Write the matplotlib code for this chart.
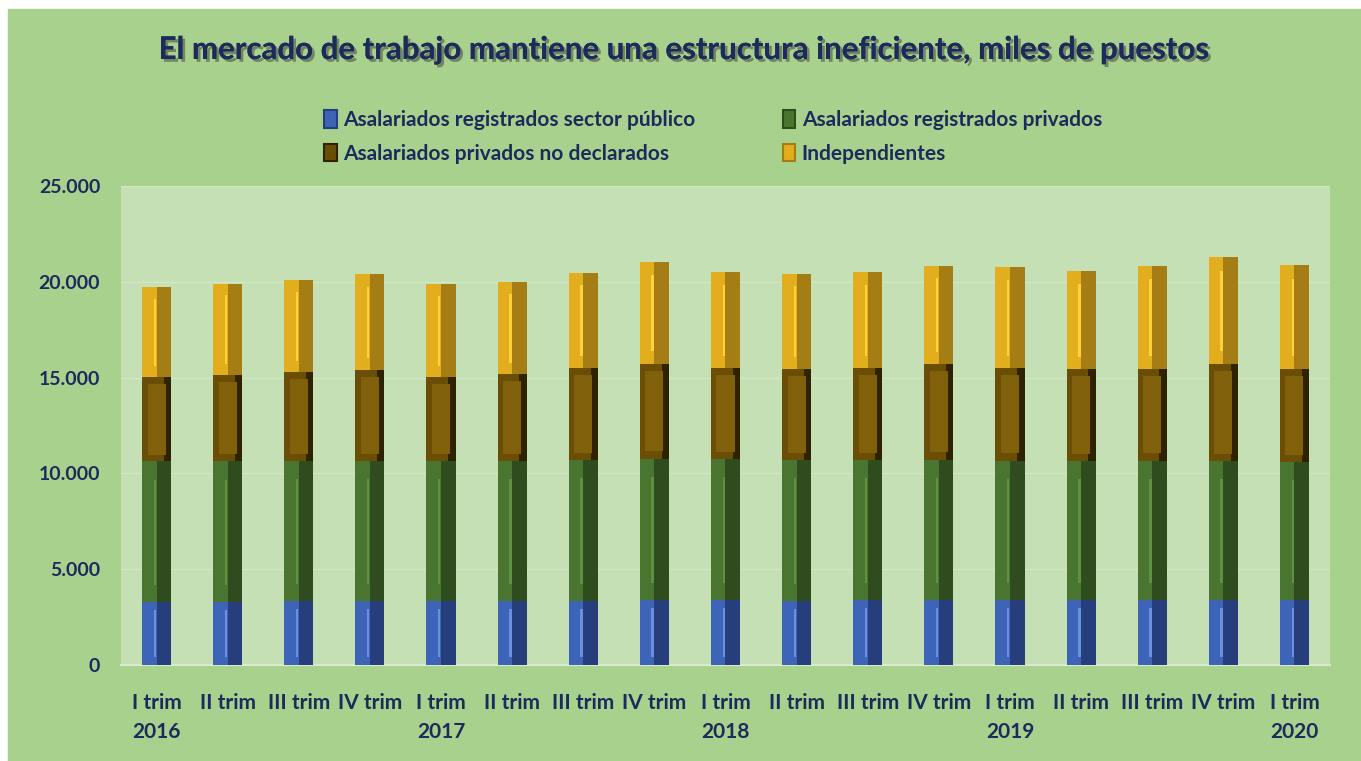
import numpy as np
import matplotlib
matplotlib.use('Agg')
import matplotlib.pyplot as plt
import matplotlib.patheffects as pe
from matplotlib.patches import Rectangle, Patch
from matplotlib.ticker import FuncFormatter

# data, miles de puestos
trimestres = ['I trim\n2016', 'II trim', 'III trim', 'IV trim',
              'I trim\n2017', 'II trim', 'III trim', 'IV trim',
              'I trim\n2018', 'II trim', 'III trim', 'IV trim',
              'I trim\n2019', 'II trim', 'III trim', 'IV trim',
              'I trim\n2020']
publico = [3310, 3310, 3350, 3350, 3350, 3360, 3350, 3400, 3400,
           3350, 3400, 3400, 3400, 3400, 3400, 3400, 3400]
privados = [7320, 7320, 7280, 7280, 7320, 7290, 7350, 7360, 7360,
            7350, 7300, 7300, 7270, 7230, 7270, 7230, 7180]
no_declarados = [4400, 4480, 4660, 4780, 4360, 4550, 4820, 4970, 4760,
                 4760, 4820, 5030, 4850, 4830, 4790, 5100, 4880]
independientes = [4700, 4800, 4790, 4990, 4880, 4780, 4950, 5300, 4980,
                  4970, 4980, 5120, 5230, 5110, 5360, 5570, 5410]

series = ['Asalariados registrados sector público', 'Asalariados registrados privados',
          'Asalariados privados no declarados', 'Independientes']
# (left face, right face, highlight)
colors = [('#3D64B6', '#263F7C', '#6A90E0'),
          ('#4A7530', '#2F4C1F', '#5E9140'),
          ('#6A4E05', '#2E2200', '#80600A'),
          ('#E2AE1E', '#A47E14', '#FFD23A')]

navy = '#1C2A5C'
plt.rcParams['font.family'] = ['Lato', 'DejaVu Sans']
plt.rcParams['font.weight'] = 'bold'

fig = plt.figure(figsize=(13.61, 7.61), dpi=100)
fig.patches.append(Rectangle((8 / 1361, 0), 1 - 8 / 1361, 1 - 9 / 761,
                             transform=fig.transFigure, color='#A9D18E', zorder=-10))

ax = fig.add_axes([121 / 1361, 1 - 665 / 761, (1330 - 121) / 1361, (665 - 186) / 761])
ax.set_facecolor('#C5E0B4')

x = np.arange(len(trimestres))
w = 0.41
bottom = np.zeros(len(x))
for k, (vals, (c1, c2, c3)) in enumerate(zip([publico, privados, no_declarados, independientes], colors)):
    vals = np.array(vals)
    if k == 2:
        # brown block: dark edges, lighter inner face
        ax.bar(x, vals, w, bottom=bottom, color=c1, zorder=3)
        ax.bar(x + w * 0.375, vals, w * 0.25, bottom=bottom, color=c2, zorder=3)
        ax.bar(x, vals * 0.84, w * 0.62, bottom=bottom + vals * 0.08, color=c3, zorder=4)
    else:
        ax.bar(x, vals, w, bottom=bottom, color=c1, zorder=3)
        ax.bar(x + w / 4, vals, w / 2, bottom=bottom, color=c2, zorder=3)
        ax.bar(x - w * 0.06, vals * 0.75, w * 0.08, bottom=bottom + vals * 0.12,
               color=c3, zorder=4)
    bottom = bottom + vals

ax.set_xlim(-0.5, len(x) - 0.5)
ax.set_ylim(0, 25000)
ax.set_yticks(np.arange(0, 25001, 5000))
ax.yaxis.set_major_formatter(FuncFormatter(lambda v, p: f'{int(v):,}'.replace(',', '.')))
ax.set_xticks(x)
ax.set_xticklabels(trimestres, linespacing=1.6, va='top')
ax.tick_params(length=0, labelsize=15, labelcolor=navy)
ax.tick_params(axis='y', labelsize=14, pad=15)
ax.tick_params(axis='x', pad=20)
ax.grid(axis='y', color='#D2E8C4', linewidth=1, zorder=0)
for s in ['top', 'right', 'left']:
    ax.spines[s].set_visible(False)
ax.spines['bottom'].set_color('#D9EBCF')
ax.spines['bottom'].set_linewidth(1.5)

fig.text(0.503, 1 - 50 / 761, 'El mercado de trabajo mantiene una estructura ineficiente, miles de puestos',
         ha='center', va='center', fontsize=22.5, fontweight='bold', color=navy,
         path_effects=[pe.withSimplePatchShadow(offset=(2, -2), shadow_rgbFace='#3A3A3A', alpha=0.5),
                       pe.Normal()])

# legend fills column-wise, so reorder to read row by row
order = [0, 2, 1, 3]
handles = [Patch(facecolor=colors[i][0], edgecolor=colors[i][1], linewidth=1.5) for i in order]
labels = [series[i] for i in order]
leg = fig.legend(handles, labels, ncol=2, loc='center', bbox_to_anchor=(0.524, 1 - 137 / 761),
                 frameon=False, fontsize=15, handlelength=0.6, handleheight=0.9,
                 handletextpad=0.3, columnspacing=4.2, labelspacing=0.65)
for t in leg.get_texts():
    t.set_color(navy)

fig.savefig('out.png', dpi=100)
